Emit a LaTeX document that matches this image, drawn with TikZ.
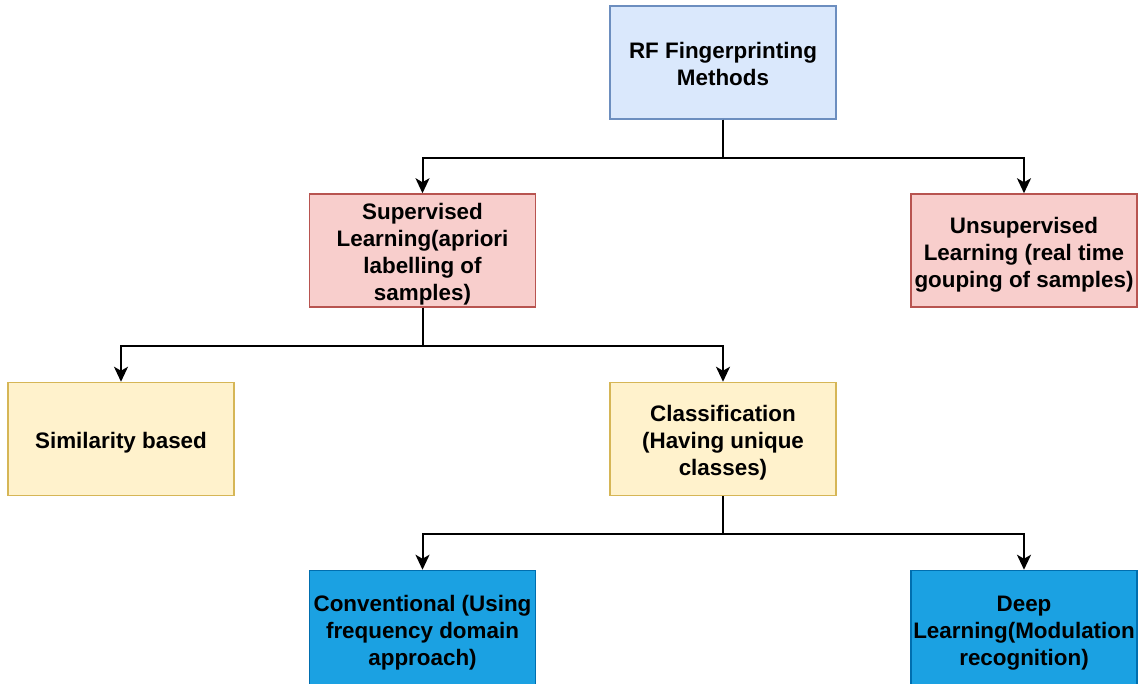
\documentclass[tikz,border=0pt]{standalone}
\usepackage{fontspec}
\setmainfont{Liberation Sans}
\usetikzlibrary{arrows.meta}
\definecolor{bluefill}{HTML}{DAE8FC}
\definecolor{blueline}{HTML}{6C8EBF}
\definecolor{redfill}{HTML}{F8CECC}
\definecolor{redline}{HTML}{B85450}
\definecolor{yellowfill}{HTML}{FFF2CC}
\definecolor{yellowline}{HTML}{D6B656}
\definecolor{deepfill}{HTML}{1BA1E2}
\definecolor{deepline}{HTML}{006EAF}
% text lines with a fixed line box, so every block is centred alike;
% the first line carries a little extra room above it
\newcommand{\boxline}[1]{\rule[-5.6pt]{0pt}{27pt}#1}
\newcommand{\topline}[1]{\rule[-5.6pt]{0pt}{31pt}#1}
\tikzset{
  box/.style={draw, line width=1.5pt, minimum width=226pt, minimum height=113pt,
    inner sep=0pt, align=center,
    font=\fontsize{22.4}{27}\selectfont\bfseries},
  rootbox/.style={box, fill=bluefill, draw=blueline},
  redbox/.style={box, fill=redfill, draw=redline},
  yellowbox/.style={box, fill=yellowfill, draw=yellowline},
  darkbox/.style={box, fill=deepfill, draw=deepline, minimum height=117pt},
  link/.style={draw=black, line width=2pt,
    -{Stealth[length=15pt, width=14pt, inset=4pt]}}
}
\begin{document}
\begin{tikzpicture}[x=1pt, y=-1pt]
  \useasboundingbox (0,0) rectangle (1145,684);

  \node[rootbox]   (rf)    at (723, 62.5)
    {\topline{RF Fingerprinting}\\\boxline{Methods}};
  \node[redbox]    (sup)   at (422.5, 250.5)
    {\topline{Supervised}\\\boxline{Learning(apriori}\\\boxline{labelling of}\\\boxline{samples)}};
  \node[redbox]    (unsup) at (1024, 250.5)
    {\topline{Unsupervised}\\\boxline{Learning (real time}\\\boxline{gouping of samples)}};
  \node[yellowbox] (sim)   at (121, 439)
    {\topline{Similarity based}};
  \node[yellowbox] (cls)   at (723, 439)
    {\topline{Classification}\\\boxline{(Having unique}\\\boxline{classes)}};
  \node[darkbox]   (conv)  at (422.5, 629)
    {\topline{Conventional (Using}\\\boxline{frequency domain}\\\boxline{approach)}};
  \node[darkbox]   (deep)  at (1024, 629)
    {\topline{Deep}\\\boxline{Learning(Modulation}\\\boxline{recognition)}};

  \draw[link] (rf.south) -- ++(0,38) -| (sup.north);
  \draw[link] (rf.south) -- ++(0,38) -| (unsup.north);
  \draw[link] (sup.south) -- ++(0,38) -| (sim.north);
  \draw[link] (sup.south) -- ++(0,38) -| (cls.north);
  \draw[link] (cls.south) -- ++(0,38) -| (conv.north);
  \draw[link] (cls.south) -- ++(0,38) -| (deep.north);
\end{tikzpicture}
\end{document}
